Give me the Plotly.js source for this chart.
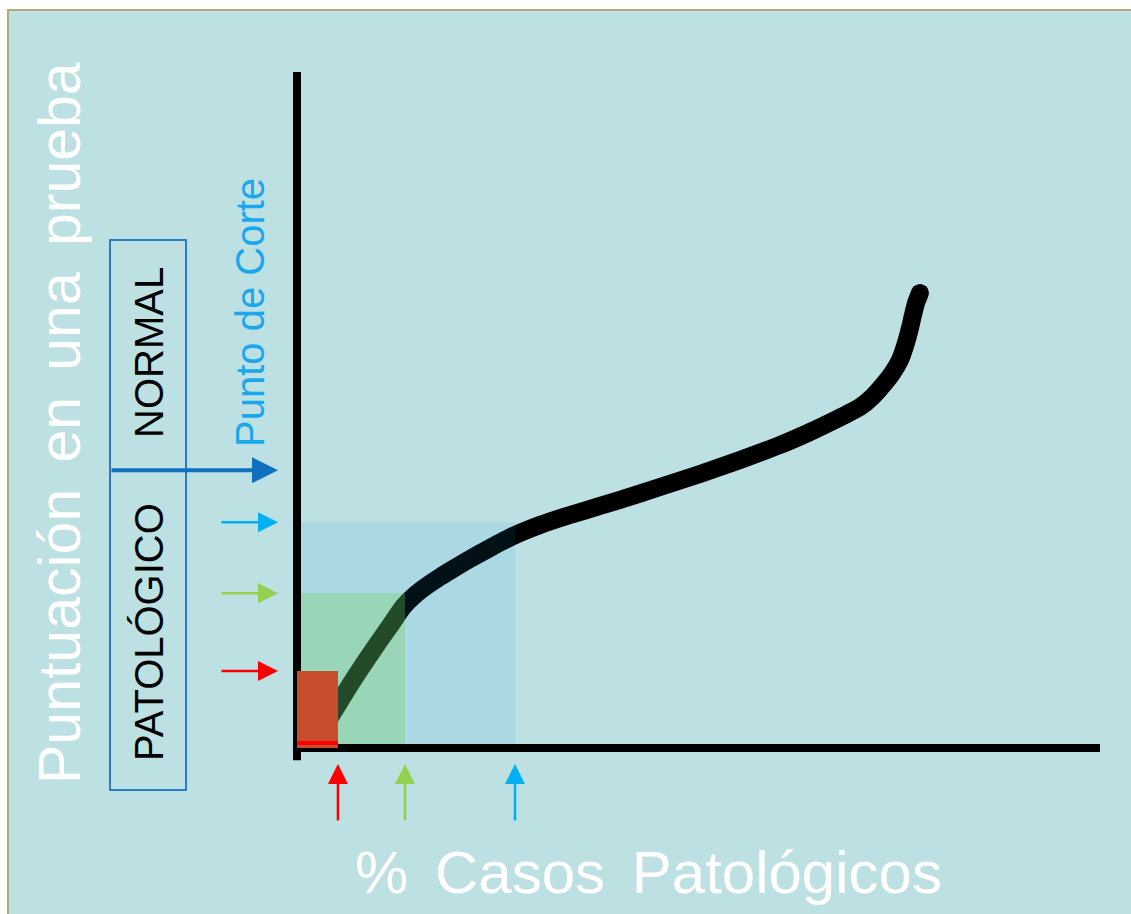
<!DOCTYPE html>
<html>
<head>
<meta charset="utf-8">
<script src="https://cdn.plot.ly/plotly-3.0.1.min.js"></script>
<style>html,body{margin:0;padding:0;background:#fff;}#chart{width:1131px;height:914px;}</style>
</head>
<body>
<div id="chart"></div>
<script>
// ---- data ----
const curveX = [4.11, 4.98, 6.60, 8.47, 10.34, 11.83, 13.20, 14.69, 16.31, 17.81, 19.43, 21.54, 24.03, 26.90, 30.26, 34.00,
                37.73, 40.22, 45.21, 50.19, 55.17, 60.15, 63.89, 67.00, 70.11, 71.61, 72.98, 74.10, 75.09, 75.72, 76.34,
                76.71, 77.09, 77.58];
const curveY = [4.50, 6.21, 9.32, 12.72, 15.98, 18.49, 20.86, 22.63, 24.11, 25.30, 26.48, 27.96, 29.59, 31.36, 32.99, 34.47,
                35.80, 36.69, 38.61, 40.53, 42.60, 44.82, 46.75, 48.52, 50.45, 51.90, 53.70, 55.40, 57.40, 59.47, 62.13,
                64.05, 65.83, 67.31];
const cutX = [5.1, 13.45, 27.15];          // % casos patológicos at each cut
const cutY = [11.4, 22.9, 33.4];           // puntuación levels
const cutColors = ['#ff0000', '#92d050', '#00b0f0'];
const cutFills = ['#c84c2e', 'rgba(113,210,83,0.30)', 'rgba(20,160,240,0.10)'];
const cutPoint = 41.1;                      // punto de corte
const SP = ' \u2006';
const labels = {
  y: ['Puntuación', 'en', 'una', 'prueba'].join(SP),
  x: ['%', 'Casos', 'Patológicos'].join(SP),
  cut: 'Punto de Corte',
  normal: 'NORMAL',
  pat: 'PATOLÓGICO'
};

// ---- layout helpers ----
const W = 1131, H = 914;
const px = v => v / W;
const py = v => 1 - v / H;
const FONT = 'Liberation Sans, Arial, sans-serif';

const traces = [
  {x: curveX, y: curveY, mode: 'lines', line: {color: '#000', width: 18, shape: 'spline', smoothing: 0.6}, hoverinfo: 'skip'},
  {x: [curveX[curveX.length - 1]], y: [curveY[curveY.length - 1]], mode: 'markers', marker: {color: '#000', size: 18}, hoverinfo: 'skip'}
];

const shapes = [];
// background panel with border
shapes.push({type: 'rect', xref: 'paper', yref: 'paper', x0: px(8), x1: 1.02, y0: -0.02, y1: py(10),
  fillcolor: '#bde0e3', line: {color: '#b3a87c', width: 2}, layer: 'below'});
// translucent cut regions (blue, green) drawn largest first
for (let i = 2; i >= 1; i--) {
  shapes.push({type: 'rect', xref: 'x', yref: 'y', x0: 0, x1: cutX[i], y0: 0, y1: cutY[i],
    fillcolor: cutFills[i], line: {width: 0}, layer: 'above'});
}
// axes
shapes.push({type: 'line', xref: 'x', yref: 'y', x0: 0, x1: 0, y0: -1.8, y1: 100, line: {color: '#000', width: 8}, layer: 'above'});
shapes.push({type: 'line', xref: 'x', yref: 'y', x0: -0.5, x1: 100, y0: 0, y1: 0, line: {color: '#000', width: 8}, layer: 'above'});
// red region (opaque)
shapes.push({type: 'rect', xref: 'x', yref: 'y', x0: 0, x1: cutX[0], y0: 0, y1: cutY[0],
  fillcolor: cutFills[0], line: {width: 0}, layer: 'above'});
shapes.push({type: 'line', xref: 'x', yref: 'y', ysizemode: 'pixel', yanchor: 0, x0: 0, x1: cutX[0], y0: 5, y1: 5,
  line: {color: '#ff0000', width: 4}, layer: 'above'});
// NORMAL / PATOLÓGICO box
shapes.push({type: 'rect', xref: 'paper', yref: 'paper', x0: px(110), x1: px(186), y0: py(790), y1: py(240),
  line: {color: '#2a7cc7', width: 2}, layer: 'above'});

const annotations = [];
annotations.push({text: labels.y, xref: 'paper', yref: 'paper', x: px(60), y: py(423), textangle: -90,
  showarrow: false, xanchor: 'center', yanchor: 'middle', font: {family: FONT, size: 59, color: '#ffffff'}});
annotations.push({text: labels.x, xref: 'paper', yref: 'paper', x: px(648), y: py(872),
  showarrow: false, xanchor: 'center', yanchor: 'middle', font: {family: FONT, size: 60, color: '#ffffff'}});
annotations.push({text: labels.cut, xref: 'paper', yref: 'paper', x: px(250), y: py(313), textangle: -90,
  showarrow: false, xanchor: 'center', yanchor: 'middle', font: {family: FONT, size: 40, color: '#1aa7ec'}});
annotations.push({text: labels.normal, xref: 'paper', yref: 'paper', x: px(149), y: py(353), textangle: -90,
  showarrow: false, xanchor: 'center', yanchor: 'middle', font: {family: FONT, size: 40, color: '#000'}});
annotations.push({text: labels.pat, xref: 'paper', yref: 'paper', x: px(149), y: py(632), textangle: -90,
  showarrow: false, xanchor: 'center', yanchor: 'middle', font: {family: FONT, size: 40, color: '#000'}});
// cut-point arrow
annotations.push({text: '', xref: 'paper', yref: 'y', x: px(278), y: cutPoint, ax: -168, ay: 0,
  showarrow: true, arrowhead: 2, arrowwidth: 4, arrowsize: 1.3, arrowcolor: '#1070c0'});
// level arrows
for (let i = 0; i < 3; i++) {
  annotations.push({text: '', xref: 'paper', yref: 'y', x: px(278), y: cutY[i], ax: -58, ay: 0,
    showarrow: true, arrowhead: 2, arrowwidth: 2.5, arrowsize: 1.6, arrowcolor: cutColors[i]});
  annotations.push({text: '', xref: 'x', yref: 'paper', x: cutX[i], y: py(764), ax: 0, ay: 58,
    showarrow: true, arrowhead: 2, arrowwidth: 2.5, arrowsize: 1.6, arrowcolor: cutColors[i]});
}

const axisBase = {showgrid: false, zeroline: false, showline: false, showticklabels: false, ticks: '', fixedrange: true};
const layout = {
  width: W, height: H,
  margin: {l: 0, r: 0, t: 0, b: 0},
  paper_bgcolor: '#ffffff',
  plot_bgcolor: 'rgba(0,0,0,0)',
  showlegend: false,
  hovermode: false,
  xaxis: Object.assign({}, axisBase, {domain: [px(297 - 3 * 8.03), px(1100)], range: [-3, 100]}),
  yaxis: Object.assign({}, axisBase, {domain: [py(748 + 3 * 6.76), py(72)], range: [-3, 100]}),
  shapes: shapes,
  annotations: annotations
};

Plotly.newPlot('chart', traces, layout, {staticPlot: true, displayModeBar: false});
</script>
</body>
</html>
